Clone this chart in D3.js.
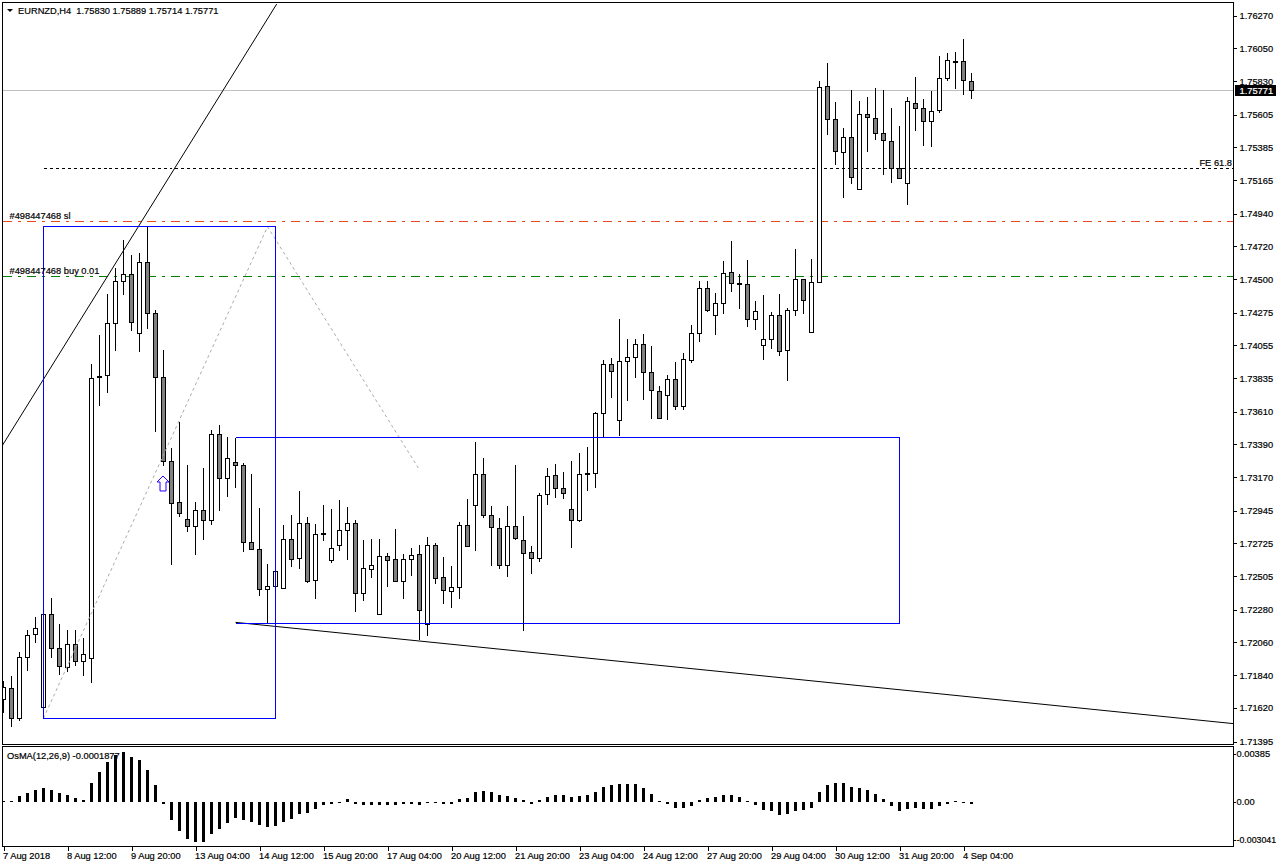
<!DOCTYPE html>
<html>
<head>
<meta charset="utf-8">
<script src="https://cdn.jsdelivr.net/npm/d3@7/dist/d3.min.js"></script>
<style>
  html, body { margin: 0; padding: 0; background: #fff; }
  svg { display: block; }
  text { font-family: "Liberation Sans", sans-serif; font-size: 9.3px; fill: #000; stroke: #000; stroke-width: 0.2px; }
</style>
</head>
<body>
<div id="chart"></div>
<script>
// EURNZD H4 candles, one entry per bar
const opens = [1.71678,1.71752,1.71548,1.71960,1.72115,1.71622,1.72249,1.72021,1.71893,1.72048,
1.71933,1.71954,1.73849,1.73854,1.74203,1.74485,1.74532,1.74136,1.74613,1.74270,
1.73841,1.73277,1.73001,1.72887,1.72837,1.72948,1.72878,1.73458,1.73162,1.73270,
1.73250,1.72733,1.72686,1.72417,1.72434,1.72424,1.72753,1.72625,1.72860,1.72477,
1.72795,1.72612,1.72710,1.72813,1.72860,1.72390,1.72551,1.72249,1.72639,1.72618,
1.72468,1.72618,1.72652,1.72182,1.72713,1.72498,1.72404,1.72430,1.72847,1.72981,
1.73189,1.72914,1.72827,1.72578,1.72840,1.72746,1.72665,1.72625,1.73055,1.73183,
1.73095,1.72954,1.72880,1.73196,1.73196,1.73599,1.73928,1.73552,1.73948,1.73975,
1.74062,1.73874,1.73747,1.73720,1.73827,1.73646,1.73955,1.74136,1.74438,1.74257,
1.74338,1.74546,1.74469,1.74465,1.74230,1.74056,1.74096,1.74257,1.74022,1.74290,
1.74499,1.74143,1.74478,1.75795,1.75573,1.75352,1.75452,1.75103,1.75607,1.75580,
1.75479,1.75425,1.75244,1.75143,1.75680,1.75647,1.75560,1.75634,1.75848,1.75962,
1.75962,1.75830];
const highs = [1.71808,1.71840,1.72001,1.72150,1.72238,1.72251,1.72363,1.72189,1.72148,1.72148,
1.72095,1.73935,1.74129,1.74405,1.74579,1.74769,1.74669,1.74682,1.74852,1.74297,
1.74029,1.73371,1.73547,1.73256,1.73010,1.73238,1.73491,1.73527,1.73446,1.73440,
1.73270,1.73196,1.72970,1.72592,1.72580,1.72853,1.72923,1.73084,1.72909,1.72860,
1.72990,1.72963,1.73021,1.72976,1.72889,1.72755,1.72761,1.72761,1.72665,1.72827,
1.72659,1.72701,1.72719,1.72773,1.72733,1.72641,1.72580,1.72874,1.73028,1.73411,
1.73303,1.72981,1.72900,1.72981,1.73258,1.72914,1.72713,1.73068,1.73236,1.73263,
1.73209,1.73285,1.73337,1.73379,1.73612,1.73961,1.73977,1.74237,1.74104,1.74104,
1.74136,1.74056,1.73787,1.73861,1.73950,1.74008,1.74198,1.74492,1.74492,1.74411,
1.74626,1.74763,1.74539,1.74633,1.74358,1.74398,1.74284,1.74405,1.74311,1.74707,
1.74505,1.74640,1.75835,1.75956,1.75694,1.75519,1.75775,1.75700,1.75727,1.75788,
1.75775,1.75654,1.75533,1.75727,1.75862,1.75714,1.75768,1.76003,1.76023,1.76030,
1.76117,1.75889];
const lows = [1.71588,1.71499,1.71539,1.71870,1.72058,1.71620,1.71958,1.71844,1.71864,1.71904,
1.71837,1.71790,1.73650,1.73737,1.74024,1.74400,1.74154,1.74017,1.74170,1.73475,
1.73247,1.72582,1.72905,1.72804,1.72654,1.72755,1.72855,1.72950,1.73044,1.73099,
1.72669,1.72683,1.72379,1.72189,1.72399,1.72424,1.72573,1.72555,1.72461,1.72354,
1.72748,1.72596,1.72676,1.72616,1.72267,1.72345,1.72495,1.72249,1.72434,1.72468,
1.72354,1.72508,1.72083,1.72105,1.72455,1.72320,1.72293,1.72354,1.72706,1.72676,
1.72900,1.72575,1.72555,1.72502,1.72753,1.72144,1.72522,1.72602,1.72988,1.73032,
1.73025,1.72696,1.72871,1.73079,1.73099,1.73438,1.73704,1.73448,1.73683,1.73838,
1.73690,1.73563,1.73565,1.73556,1.73623,1.73623,1.73939,1.74080,1.74281,1.74127,
1.74268,1.74415,1.74301,1.74180,1.74160,1.73959,1.74033,1.73986,1.73818,1.74255,
1.74268,1.74143,1.74478,1.75470,1.75269,1.75047,1.75141,1.75103,1.75355,1.75436,
1.75201,1.75147,1.75177,1.75002,1.75497,1.75396,1.75389,1.75617,1.75832,1.75779,
1.75738,1.75714];
const closes = [1.71759,1.71548,1.71960,1.72108,1.72155,1.72249,1.72021,1.71900,1.72048,1.71933,
1.71980,1.73834,1.73841,1.74203,1.74485,1.74532,1.74210,1.74613,1.74270,1.73841,
1.73277,1.72995,1.72927,1.72837,1.72948,1.72878,1.73458,1.73162,1.73297,1.73247,
1.72730,1.72686,1.72417,1.72434,1.72538,1.72753,1.72618,1.72860,1.72468,1.72786,
1.72788,1.72692,1.72813,1.72860,1.72390,1.72558,1.72578,1.72639,1.72612,1.72468,
1.72618,1.72645,1.72276,1.72713,1.72491,1.72410,1.72430,1.72847,1.72706,1.73189,
1.72914,1.72833,1.72578,1.72840,1.72759,1.72659,1.72625,1.73048,1.73176,1.73095,
1.73062,1.72880,1.73189,1.73189,1.73599,1.73928,1.73881,1.73948,1.73975,1.74062,
1.73874,1.73753,1.73565,1.73827,1.73646,1.73961,1.74136,1.74438,1.74290,1.74338,
1.74539,1.74472,1.74465,1.74230,1.74284,1.74096,1.74257,1.74015,1.74290,1.74499,
1.74358,1.74478,1.75788,1.75573,1.75358,1.75452,1.75184,1.75607,1.75587,1.75479,
1.75432,1.75244,1.75177,1.75694,1.75647,1.75560,1.75627,1.75848,1.75969,1.75956,
1.75835,1.75771];

// OsMA(12,26,9) histogram, one value per bar
const osma = [0.00008,0.00012,0.00048,0.00072,0.00096,0.00112,0.00096,0.00072,0.00056,0.00032,
0.00016,0.00152,0.00240,0.00320,0.00376,0.00400,0.00360,0.00336,0.00256,0.00136,
-0.00012,-0.00144,-0.00232,-0.00296,-0.00320,-0.00320,-0.00256,-0.00216,-0.00168,-0.00128,
-0.00144,-0.00160,-0.00184,-0.00200,-0.00192,-0.00160,-0.00136,-0.00096,-0.00088,-0.00056,
-0.00024,-0.00016,-0.00008,0.00024,-0.00016,-0.00024,-0.00024,-0.00024,-0.00020,-0.00024,
-0.00016,-0.00012,-0.00024,-0.00008,-0.00008,-0.00016,-0.00016,0.00024,0.00032,0.00080,
0.00088,0.00080,0.00056,0.00048,0.00032,0.00016,-0.00016,0.00016,0.00040,0.00056,
0.00056,0.00040,0.00048,0.00056,0.00080,0.00120,0.00136,0.00144,0.00144,0.00144,
0.00112,0.00064,0.00006,-0.00012,-0.00048,-0.00048,-0.00032,0.00016,0.00032,0.00040,
0.00056,0.00056,0.00040,0.00006,-0.00024,-0.00064,-0.00072,-0.00104,-0.00096,-0.00072,
-0.00064,-0.00048,0.00080,0.00136,0.00152,0.00152,0.00120,0.00112,0.00096,0.00064,
0.00024,-0.00032,-0.00072,-0.00056,-0.00048,-0.00056,-0.00056,-0.00032,-0.00016,0.00006,
-0.00008,-0.0001877];

// Axis labels
const priceTicks = [1.76270,1.76050,1.75830,1.75605,1.75385,1.75165,1.74940,1.74720,1.74500,1.74275,1.74055,1.73835,
  1.73610,1.73390,1.73170,1.72945,1.72725,1.72505,1.72280,1.72060,1.71840,1.71620,1.71395];
const osmaTicks = [0.00385, 0, -0.003041];
const osmaTickLabels = ["0.00385", "0.00", "-0.003041"];
const timeTickBars = [0,8,16,24,32,40,48,56,64,72,80,88,96,104,112,120];
const timeTickLabels = ["7 Aug 2018","8 Aug 12:00","9 Aug 20:00","13 Aug 04:00","14 Aug 12:00","15 Aug 20:00",
  "17 Aug 04:00","20 Aug 12:00","21 Aug 20:00","23 Aug 04:00","24 Aug 12:00","27 Aug 20:00","29 Aug 04:00",
  "30 Aug 12:00","31 Aug 20:00","4 Sep 04:00"];

// Levels and drawing objects on the price window, anchored in bar index and price
const lastPrice = 1.75771;
const feLevel = 1.75245, feStartBar = 5;
const slLevel = 1.74888, buyLevel = 1.74519;
const rangeBoxes = [
  { from: 5, to: 34, top: 1.74852, bottom: 1.71551, closed: true },
  { from: 29, to: 112, top: 1.73436, bottom: 1.72189, closed: false }
];
const trendLines = [
  [[-0.19, 1.73379], [34.15, 1.76347]],
  [[29, 1.72195], [153.75, 1.71515]]
];
const expansionPath = [[5, 1.71551], [33, 1.74852], [51.85, 1.73232]];
const signalArrow = { bar: 20, price: 1.73178 };

const chartWidth = 1276, chartHeight = 867;
const plotLeft = 2.5, plotRight = 1233.5, plotTop = 2.5, mainBottom = 744.5, subTop = 746.5, subBottom = 846.5;

const x = d3.scaleLinear().domain([0, 121]).range([3.5, 971.5]);
const y = d3.scaleLinear().domain([1.76270, 1.71395]).range([15.5, 741.5]);
const yOsma = d3.scaleLinear().domain([0.008, -0.008]).range([702, 902]);
const snap = v => Math.floor(v + 0.2) + 0.5;

const svg = d3.select("#chart").append("svg").attr("width", chartWidth).attr("height", chartHeight);
const defs = svg.append("defs");
defs.append("clipPath").attr("id", "main-clip").append("rect")
  .attr("x", plotLeft + 0.5).attr("y", plotTop + 0.5).attr("width", plotRight - plotLeft - 1).attr("height", mainBottom - plotTop - 1);
defs.append("clipPath").attr("id", "sub-clip").append("rect")
  .attr("x", plotLeft + 0.5).attr("y", subTop + 0.5).attr("width", plotRight - plotLeft - 1).attr("height", subBottom - subTop - 1);

const main = svg.append("g").attr("clip-path", "url(#main-clip)");

// Horizontal levels sit behind the candles
function level(price, x0, colour, dash) {
  main.append("line")
    .attr("x1", x0).attr("x2", plotRight).attr("y1", snap(y(price))).attr("y2", snap(y(price)))
    .attr("stroke", colour).attr("stroke-width", 1)
    .attr("stroke-dasharray", dash).attr("shape-rendering", "crispEdges");
}
level(lastPrice, plotLeft, "#c0c0c0", null);
level(feLevel, x(feStartBar), "#000000", "3 3");
level(slLevel, plotLeft, "#e8481c", "9 6 3 6");
level(buyLevel, plotLeft, "#008000", "9 6 3 6");

// Candles
const bars = d3.range(opens.length).map(i => ({ i, o: opens[i], h: highs[i], l: lows[i], c: closes[i] }));
const candle = main.append("g").selectAll("g").data(bars).join("g").attr("shape-rendering", "crispEdges");
candle.append("line")
  .attr("x1", d => x(d.i)).attr("x2", d => x(d.i))
  .attr("y1", d => snap(y(d.h))).attr("y2", d => snap(y(d.l)) + 0.5)
  .attr("stroke", "#000");
candle.append("rect")
  .attr("x", d => x(d.i) - 2).attr("width", 4)
  .attr("y", d => snap(y(Math.max(d.o, d.c))))
  .attr("height", d => Math.max(1, snap(y(Math.min(d.o, d.c))) - snap(y(Math.max(d.o, d.c)))))
  .attr("fill", d => d.c < d.o ? "#808080" : "#ffffff")
  .attr("stroke", "#000");

// Objects drawn over the candles
const lineGen = d3.line().x(p => x(p[0])).y(p => y(p[1]));
main.append("path").attr("d", lineGen(expansionPath)).attr("fill", "none")
  .attr("stroke", "#ababab").attr("stroke-dasharray", "3 3");
trendLines.forEach(t => {
  main.append("path").attr("d", lineGen(t)).attr("fill", "none").attr("stroke", "#000").attr("stroke-width", 1);
});
// Range boxes; the consolidation box stays open on its left side
main.selectAll("path.box").data(rangeBoxes).join("path").attr("class", "box")
  .attr("d", d => {
    const x0 = x(d.from), x1 = x(d.to), y0 = snap(y(d.top)), y1 = snap(y(d.bottom));
    const p = d3.path();
    p.moveTo(x0, y0); p.lineTo(x1, y0); p.lineTo(x1, y1); p.lineTo(x0, y1);
    if (d.closed) p.closePath();
    return p.toString();
  })
  .attr("fill", "none").attr("stroke", "#0000ff").attr("shape-rendering", "crispEdges");

// Hollow buy arrow under the signal bar
const ax = x(signalArrow.bar) - 0.5, ay = y(signalArrow.price);
const arrowShape = [[0,0],[6,6],[3,6],[3,15],[-3,15],[-3,6],[-6,6]];
main.append("path")
  .attr("d", d3.line().x(p => ax + p[0]).y(p => ay + p[1]).curve(d3.curveLinearClosed)(arrowShape))
  .attr("fill", "#fff").attr("stroke", "#2000ff").attr("stroke-width", 1);

// OsMA histogram
svg.append("g").attr("clip-path", "url(#sub-clip)")
  .selectAll("rect").data(osma).join("rect")
  .attr("x", (d, i) => x(i) - 1.5).attr("width", 3)
  .attr("y", d => Math.round(yOsma(Math.max(0, d))))
  .attr("height", d => Math.max(1, Math.abs(Math.round(yOsma(d)) - Math.round(yOsma(0)))))
  .attr("fill", "#000").attr("shape-rendering", "crispEdges");

// Frames
[[mainBottom, plotTop], [subBottom, subTop]].forEach(([b, t]) => {
  svg.append("rect").attr("x", plotLeft).attr("y", t).attr("width", plotRight - plotLeft).attr("height", b - t)
    .attr("fill", "none").attr("stroke", "#000").attr("shape-rendering", "crispEdges");
});

// Axes
function styleAxis(g) {
  g.select(".domain").remove();
  g.selectAll(".tick line").attr("stroke", "#000").attr("shape-rendering", "crispEdges");
}
svg.append("g").attr("transform", `translate(${plotRight},0)`)
  .call(d3.axisRight(y).tickValues(priceTicks).tickFormat(d3.format(".5f")).tickSize(3).tickPadding(3))
  .call(styleAxis);
const osmaAxis = svg.append("g").attr("transform", `translate(${plotRight},0)`)
  .call(d3.axisRight(yOsma).tickValues(osmaTicks).tickFormat((d, i) => osmaTickLabels[i]).tickSize(2).tickPadding(1))
  .call(styleAxis);
// The longest indicator label has to fit the narrow margin
osmaAxis.selectAll("text").filter(d => d < 0).style("font-size", "8.8px");
const timeAxis = svg.append("g").attr("transform", `translate(0,${subBottom})`)
  .call(d3.axisBottom(x).tickValues(timeTickBars).tickFormat((d, i) => timeTickLabels[i]).tickSize(4).tickPadding(2))
  .call(styleAxis);
timeAxis.selectAll("text").attr("text-anchor", "start").attr("dx", -1);

// Last price flag on the axis
const flagY = snap(y(lastPrice));
svg.append("rect").attr("x", 1235).attr("y", flagY - 5.5).attr("width", 41).attr("height", 11).attr("fill", "#000");
svg.append("text").attr("x", 1239.5).attr("y", flagY).attr("dy", "0.35em")
  .style("fill", "#fff").style("stroke", "#fff").text(d3.format(".5f")(lastPrice));

// Chart captions
svg.append("path").attr("d", d3.line()([[7, 9], [13, 9], [10, 12]])).attr("fill", "#000");
svg.append("text").attr("x", 18).attr("y", 10.5).attr("dy", "0.35em")
  .style("white-space", "pre").text("EURNZD,H4  1.75830 1.75889 1.75714 1.75771");
svg.append("text").attr("x", 9.5).attr("y", y(slLevel) - 5.5).attr("dy", "0.35em").text("#498447468 sl");
svg.append("text").attr("x", 9.5).attr("y", y(buyLevel) - 5.5).attr("dy", "0.35em").text("#498447468 buy 0.01");
svg.append("text").attr("x", 1232).attr("y", y(feLevel) - 5.5).attr("dy", "0.35em").attr("text-anchor", "end").text("FE 61.8");
svg.append("text").attr("x", 7).attr("y", 756).attr("dy", "0.35em").text("OsMA(12,26,9) -0.0001877");
</script>
</body>
</html>
